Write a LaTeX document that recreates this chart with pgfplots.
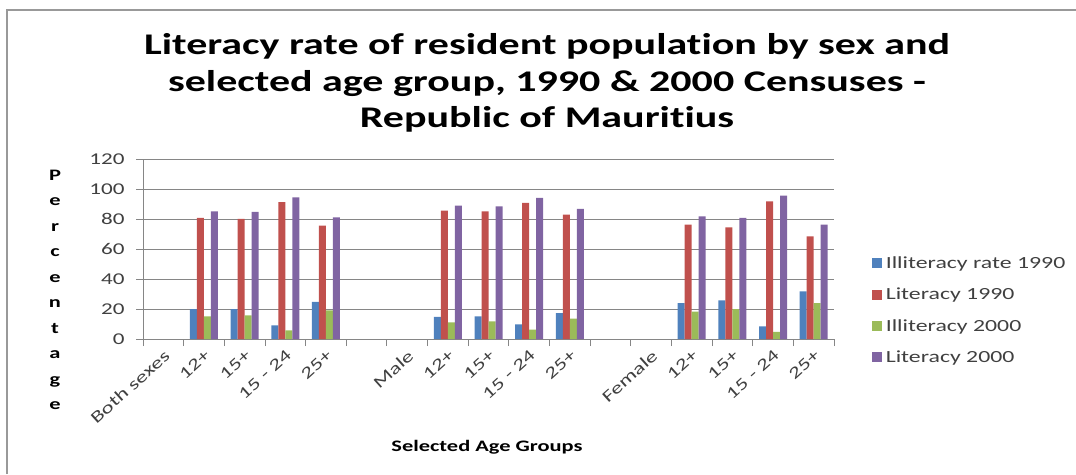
\documentclass[border=0pt]{standalone}
\usepackage{pgfplots}
\pgfplotsset{compat=1.18}
\usepackage{fontspec}
\setmainfont{Carlito}[FakeStretch=1.4, Ligatures=NoCommon]

\definecolor{sblue}{HTML}{4F81BD}
\definecolor{sred}{HTML}{C0504D}
\definecolor{sgreen}{HTML}{9BBB59}
\definecolor{spurple}{HTML}{8064A2}
\definecolor{gridgray}{HTML}{868686}
\definecolor{txt}{HTML}{404040}

\begin{document}
\begin{tikzpicture}[x=1pt,y=1pt]
\useasboundingbox (0,0) rectangle (1076,474);
\draw[gray!80, line width=1.2pt] (7,0) -- (7,464) -- (1076,464);

% title (anchor base = last line)
\node[anchor=base, align=center, font=\bfseries\fontsize{30}{36.5}\selectfont]
  at (547,346) {Literacy rate of resident population by sex and\\
  selected age group, 1990 \& 2000 Censuses -\\Republic of Mauritius};

% y label, one letter a line
\node[align=center, text=black, font=\bfseries\fontsize{16}{25.5}\selectfont]
  at (55,184) {P\\e\\r\\c\\e\\n\\t\\a\\g\\e};

\node[font=\bfseries\fontsize{16}{19}\selectfont] at (487,27) {Selected Age Groups};

\begin{axis}[
    at={(143pt,135pt)}, anchor=south west,
    scale only axis,
    width=691pt, height=180pt,
    ybar=0pt, bar width=7pt,
    xmin=-0.5, xmax=16.5,
    ymin=0, ymax=120,
    ytick={0,20,...,120},
    xtick={-0.5,0.5,...,16.5},
    x tick label as interval,
    xticklabels={Both sexes,12+,15+,15 - 24,25+,,Male,12+,15+,15 - 24,25+,,Female,12+,15+,15 - 24,25+},
    axis x line*=bottom, axis y line*=left,
    axis line style={gridgray, line width=0.8pt},
    tick align=outside,
    major tick length=7pt,
    tick style={gridgray, line width=0.8pt},
    ymajorgrids,
    grid style={gridgray, line width=0.8pt},
    /pgf/number format/assume math mode=true,
    yticklabel style={text=txt, font=\fontsize{16.5}{19}\selectfont, xshift=-8pt},
    xticklabel style={text=txt, font=\fontsize{16.5}{19}\selectfont,
        rotate=42, anchor=north east, inner sep=2pt},
    legend style={draw=none, fill=none, at={(1.05,0.48)}, anchor=north west,
        font=\fontsize{17}{20}\selectfont, text=txt, row sep=14pt,
        /tikz/every odd column/.append style={column sep=2pt}},
    legend cell align=left,
    legend image code/.code={\fill[#1] (0pt,-5pt) rectangle (10pt,5pt);},
]
\addplot[fill=sblue, draw=none] coordinates {
 (1,20) (2,20) (3,9.1) (4,24.7)
 (7,14.7) (8,15.1) (9,9.8) (10,17.3)
 (13,24) (14,25.8) (15,8.4) (16,31.8)};
\addplot[fill=sred, draw=none] coordinates {
 (1,80.7) (2,80) (3,91.3) (4,75.6)
 (7,85.6) (8,85.1) (9,90.7) (10,82.9)
 (13,76.2) (14,74.4) (15,91.8) (16,68.4)};
\addplot[fill=sgreen, draw=none] coordinates {
 (1,15.1) (2,15.8) (3,5.8) (4,19.1)
 (7,11.1) (8,11.8) (9,6.2) (10,13.6)
 (13,18.2) (14,20) (15,4.7) (16,24)};
\addplot[fill=spurple, draw=none] coordinates {
 (1,85.1) (2,84.7) (3,94.4) (4,81.1)
 (7,88.9) (8,88.4) (9,94) (10,86.7)
 (13,81.8) (14,80.7) (15,95.6) (16,76.2)};
\legend{Illiteracy rate 1990, Literacy 1990, Illiteracy 2000, Literacy 2000}
\end{axis}
\end{tikzpicture}
\end{document}
